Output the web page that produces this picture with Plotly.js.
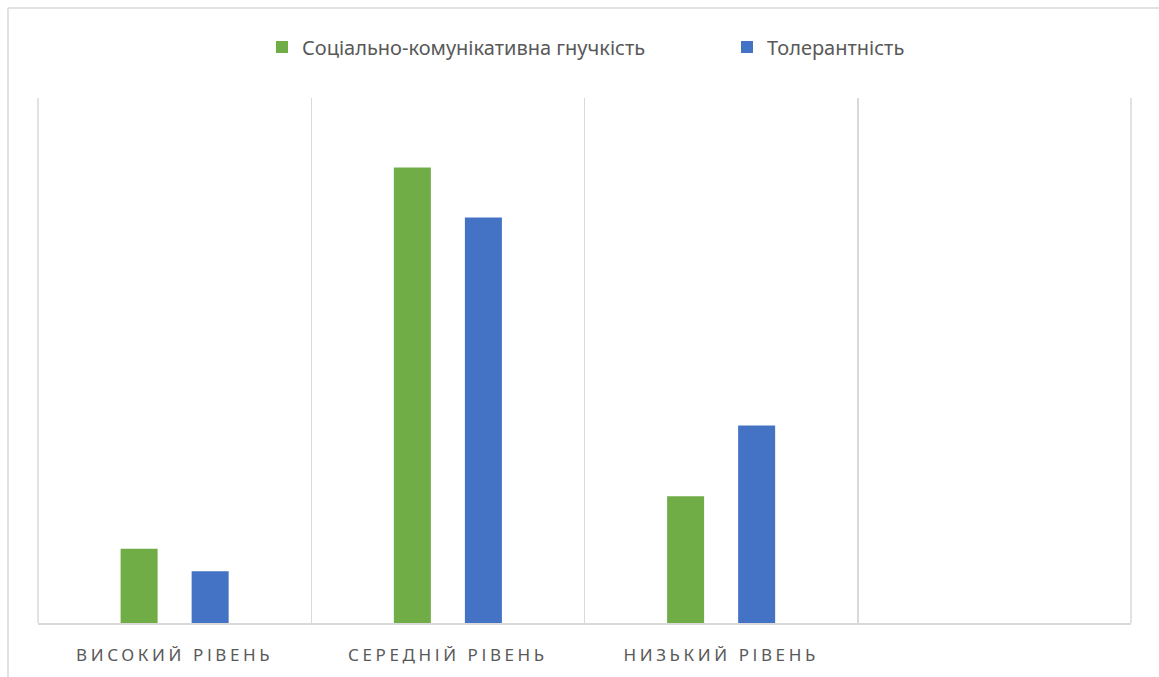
<!DOCTYPE html>
<html>
<head>
<meta charset="utf-8">
<script src="https://cdn.plot.ly/plotly-3.0.1.min.js"></script>
<style>
html,body{margin:0;padding:0;background:#fff;}
#chart{width:1159px;height:677px;}
.xtick text{letter-spacing:3.6px;}
</style>
</head>
<body>
<div id="chart"></div>
<script>
const categories = ["ВИСОКИЙ РІВЕНЬ", "СЕРЕДНІЙ РІВЕНЬ", "НИЗЬКИЙ РІВЕНЬ", " "];
const seriesNames = ["Соціально-комунікативна гнучкість", "Толерантність"];
const flexibility = [11.3, 69.4, 19.3, null];
const tolerance = [7.9, 61.8, 30.1, null];

const data = [
  {type: "bar", name: seriesNames[0], x: categories, y: flexibility, marker: {color: "#70ad47"}, hoverinfo: "y", legend: "legend"},
  {type: "bar", name: seriesNames[1], x: categories, y: tolerance, marker: {color: "#4472c4"}, hoverinfo: "y", legend: "legend2"}
];

const W = 1093, H = 525;
const grid = {color: "#d9d9d9", width: 1.5};
const legendBase = {orientation: "h", xanchor: "left", y: (623 - 47) / H, yanchor: "middle",
                    font: {size: 20, color: "#595959"}, itemwidth: 30, itemclick: false,
                    bgcolor: "rgba(0,0,0,0)"};
const layout = {
  width: 1159, height: 677,
  margin: {l: 38, r: 28, t: 98, b: 54},
  paper_bgcolor: "#fff", plot_bgcolor: "#fff",
  barmode: "group", bargap: 0.48, bargroupgap: 0.479,
  font: {family: "Noto Sans, sans-serif", color: "#595959"},
  showlegend: true,
  legend: Object.assign({}, legendBase, {x: (262 - 38) / W}),
  legend2: Object.assign({}, legendBase, {x: (727 - 38) / W}),
  xaxis: {type: "category", tickson: "boundaries", showgrid: true, gridcolor: "#d9d9d9", gridwidth: 1.5,
          ticks: "", showline: true, linecolor: "#d9d9d9", linewidth: 1.5, ticklabelstandoff: 16,
          tickfont: {size: 17, color: "#595959"}, fixedrange: true},
  yaxis: {range: [0, 80], showgrid: false, zeroline: false, showticklabels: false, showline: false,
          ticks: "", fixedrange: true},
  shapes: [
    {type: "line", xref: "paper", yref: "paper", x0: 0, x1: 0, y0: 0, y1: 1, line: grid},
    {type: "line", xref: "paper", yref: "paper", x0: 1, x1: 1, y0: 0, y1: 1, line: grid},
    {type: "line", xref: "paper", yref: "paper", x0: -30 / W, x1: -30 / W, y0: -54 / H, y1: 615 / H, line: grid},
    {type: "line", xref: "paper", yref: "paper", x0: -30 / W, x1: 1.03, y0: 615 / H, y1: 615 / H, line: grid}
  ]
};

Plotly.newPlot("chart", data, layout, {displayModeBar: false, staticPlot: true});
</script>
</body>
</html>
